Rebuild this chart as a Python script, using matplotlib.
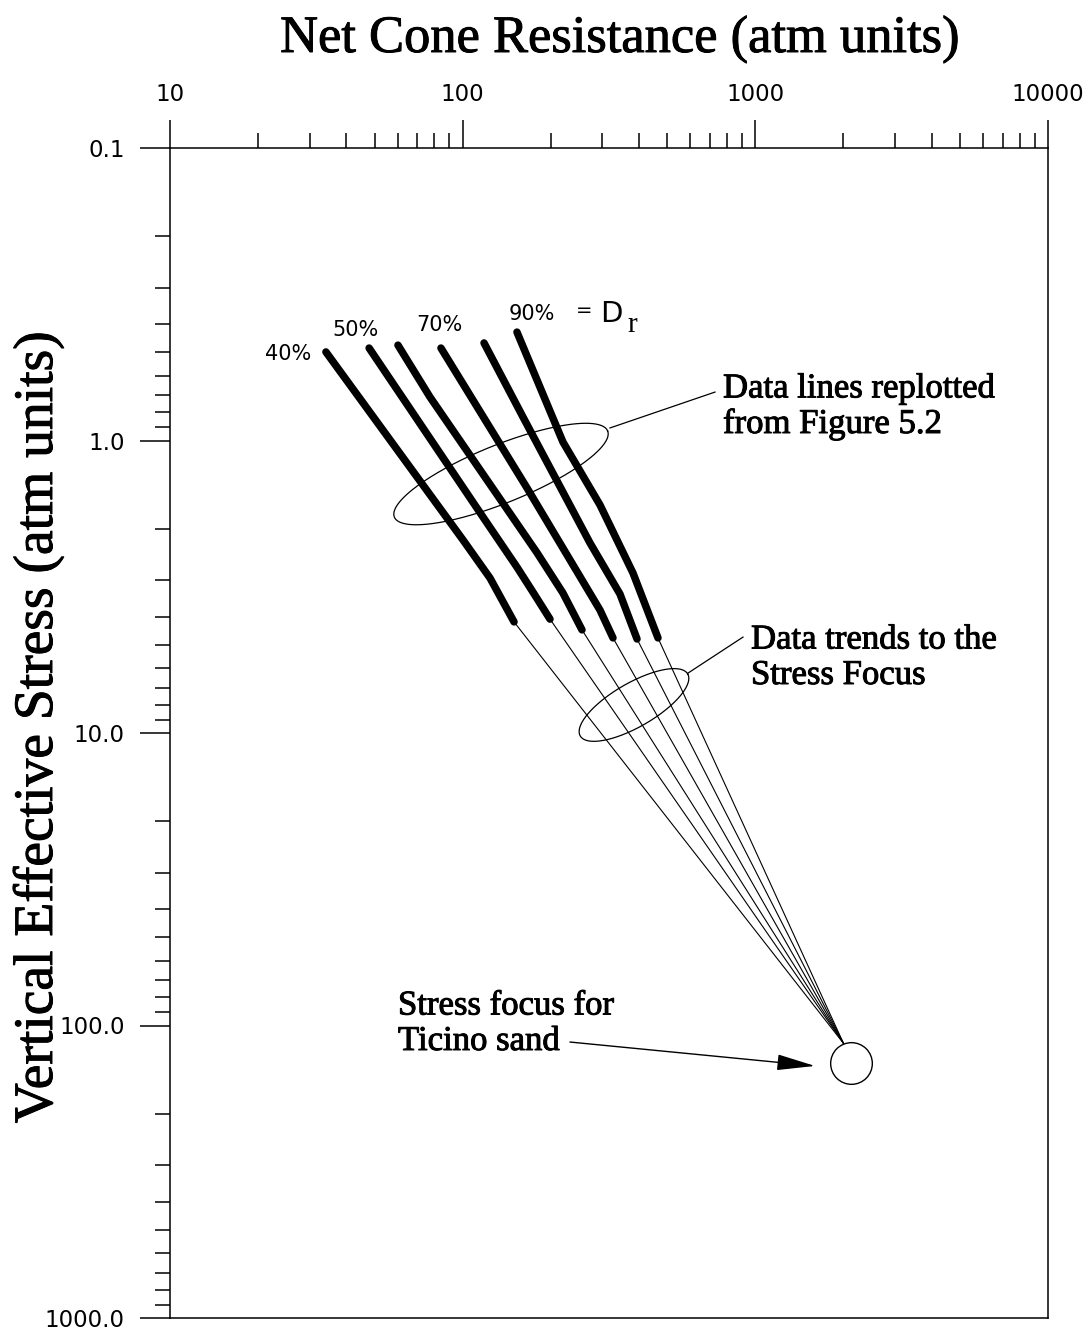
import numpy as np
import matplotlib
matplotlib.use("Agg")
import matplotlib.pyplot as plt
import matplotlib.patheffects as pe
from matplotlib.ticker import FixedLocator, FixedFormatter, LogLocator, NullFormatter

# ---------------- data ----------------
x_ticks = [10, 100, 1000, 10000]
x_tick_labels = ["10", "100", "1000", "10000"]
y_ticks = [0.1, 1.0, 10.0, 100.0, 1000.0]
y_tick_labels = ["0.1", "1.0", "10.0", "100.0", "1000.0"]

dr_labels = ["40%", "50%", "70%", "90%"]

# six data lines: net cone resistance (x) and vertical effective stress (y)
line1_qc = [34.1, 100.3, 124.0, 149.8]
line1_sv = [0.498, 2.189, 2.953, 4.17]
line2_qc = [47.9, 117.3, 153.3, 173.9, 198.8]
line2_sv = [0.483, 1.826, 2.71, 3.30, 4.08]
line3_qc = [60.1, 77.3, 179.5, 220.0, 255.7]
line3_sv = [0.472, 0.710, 2.42, 3.32, 4.44]
line4_qc = [84.3, 165.9, 294.6, 326.3]
line4_sv = [0.483, 1.453, 3.80, 4.73]
line5_qc = [118.3, 160.7, 272.3, 344.8, 394.2]
line5_sv = [0.464, 0.831, 2.24, 3.35, 4.77]
line6_qc = [153.3, 220.1, 294.6, 382.0, 464.9]
line6_sv = [0.426, 1.012, 1.661, 2.84, 4.73]

lines_qc = [line1_qc, line2_qc, line3_qc, line4_qc, line5_qc, line6_qc]
lines_sv = [line1_sv, line2_sv, line3_sv, line4_sv, line5_sv, line6_sv]

# stress focus (convergence of trends) and circle marker
focus_qc = 2000.0
focus_sv = 115.0
circle_qc = 2120.0
circle_sv = 134.0

# ---------------- figure ----------------
W, H = 1090, 1332
fig = plt.figure(figsize=(W / 100, H / 100), dpi=100)


def fpx(x, y):
    return x / W, 1 - y / H


ax = fig.add_axes([170 / W, 1 - 1318 / H, (1048 - 170) / W, (1318 - 148) / H])
ax.set_xscale("log")
ax.set_yscale("log")
ax.set_xlim(10, 10000)
ax.set_ylim(1000, 0.1)

for s in ax.spines.values():
    s.set_linewidth(1.1)

ax.xaxis.set_major_locator(FixedLocator(x_ticks))
ax.xaxis.set_major_formatter(FixedFormatter(x_tick_labels))
ax.xaxis.set_minor_locator(LogLocator(base=10, subs=range(2, 10), numticks=50))
ax.xaxis.set_minor_formatter(NullFormatter())
ax.yaxis.set_major_locator(FixedLocator(y_ticks))
ax.yaxis.set_major_formatter(FixedFormatter(y_tick_labels))
ax.yaxis.set_minor_locator(LogLocator(base=10, subs=range(2, 10), numticks=50))
ax.yaxis.set_minor_formatter(NullFormatter())

ax.tick_params(axis="x", which="both", top=True, bottom=False, labeltop=True,
               labelbottom=False, direction="out", width=1.1, color="black")
ax.tick_params(axis="y", which="both", left=True, right=False, labelleft=True,
               labelright=False, direction="out", width=1.1, color="black")
ax.tick_params(axis="x", which="major", length=20.5, pad=10, labelsize=16.5)
ax.tick_params(axis="y", which="major", length=21.5, pad=11, labelsize=16.5)
ax.tick_params(axis="both", which="minor", length=10.5)

# thick data lines
for qc, sv in zip(lines_qc, lines_sv):
    ax.plot(qc, sv, color="black", lw=5.4, solid_capstyle="round",
            solid_joinstyle="round", zorder=3)

# thin trend lines toward the stress focus
for qc, sv in zip(lines_qc, lines_sv):
    ax.plot([qc[-1], focus_qc], [sv[-1], focus_sv], color="black", lw=0.8, zorder=2)

# stress focus circle
ax.plot([circle_qc], [circle_sv], marker="o", markersize=30, markerfacecolor="white",
        markeredgecolor="black", markeredgewidth=1.0, zorder=4, linestyle="none")


# ellipses drawn in log space
def ellipse_pts(cx, cy, a, b, ang_deg):
    t = np.linspace(0, 2 * np.pi, 300)
    th = np.radians(ang_deg)
    u = a * np.cos(t)
    v = b * np.sin(t)
    X = np.log10(cx) + u * np.cos(th) - v * np.sin(th)
    Yup = u * np.sin(th) + v * np.cos(th)
    Y = np.log10(cy) - Yup
    return 10 ** X, 10 ** Y


ex, ey = ellipse_pts(135.2, 1.302, 0.393, 0.099, 22)
ax.plot(ex, ey, color="black", lw=0.9, zorder=2)
ex, ey = ellipse_pts(384.9, 8.02, 0.212, 0.075, 30)
ax.plot(ex, ey, color="black", lw=0.9, zorder=2)

# leader lines
ax.plot([318.7, 728.1], [0.906, 0.683], color="black", lw=0.9)
ax.plot([588.8, 907.6], [6.24, 4.70], color="black", lw=0.9)

# arrow to stress focus
ax.annotate("", xy=(1599, 137.5), xytext=(232.6, 113.9),
            arrowprops=dict(arrowstyle="-|>,head_length=1.2,head_width=0.25",
                            mutation_scale=20, lw=1.0, color="black",
                            shrinkA=0, shrinkB=0))

# ---------------- texts ----------------
serif = "Liberation Serif"
heavy = [pe.withStroke(linewidth=0.7, foreground="black")]
fig.text(*fpx(620, 52), "Net Cone Resistance (atm units)", fontsize=37.8,
         family=serif, ha="center", va="baseline", path_effects=heavy)
fig.text(*fpx(38, 728), "Vertical Effective Stress (atm units)", fontsize=40,
         family=serif, ha="center", va="center", rotation=90, path_effects=heavy)

fig.text(*fpx(723, 433), "Data lines replotted\nfrom Figure 5.2", fontsize=25,
         family=serif, ha="left", va="baseline", linespacing=1.1, path_effects=heavy)
fig.text(*fpx(751, 684), "Data trends to the\nStress Focus", fontsize=25,
         family=serif, ha="left", va="baseline", linespacing=1.1, path_effects=heavy)
fig.text(*fpx(398, 1050), "Stress focus for\nTicino sand", fontsize=25,
         family=serif, ha="left", va="baseline", linespacing=1.1, path_effects=heavy)

label_pos = [(288, 360), (356, 336), (439, 331), (532, 320)]
for lab, (px_, py_) in zip(dr_labels, label_pos):
    fig.text(*fpx(px_, py_), lab, fontsize=15, family="DejaVu Sans",
             ha="center", va="baseline")
fig.text(*fpx(584, 316), "=", fontsize=14, family="DejaVu Sans", ha="center", va="baseline")
fig.text(*fpx(611, 322), "D", fontsize=21, family="DejaVu Sans", ha="center", va="baseline")
fig.text(*fpx(632, 332), "r", fontsize=21, family=serif, ha="center", va="baseline")

fig.savefig("out.png", dpi=100, facecolor="white")
